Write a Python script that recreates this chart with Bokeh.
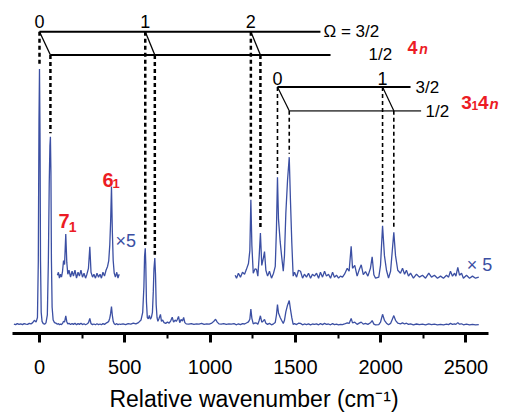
import numpy as np
from bokeh.plotting import figure
from bokeh.models import Label, SingleIntervalTicker
from bokeh.embed import file_html
from bokeh.resources import INLINE

# ---------------- data ----------------
wavenumber = [
    -150, -140, -130, -120, -110, -100, -90, -80, -70, -60, -50, -40, -30, -20, -12, -7, -3, 0, 3, 6, 10, 15, 22, 30, 38,
    46, 52, 57, 61, 64, 67, 70, 74, 80, 88, 96,
    105, 111, 117, 123, 129, 135, 141, 147, 154, 160, 166, 173, 182, 191, 199, 208, 217, 226, 234, 243, 252, 261, 270,
    278, 287, 295, 302, 311, 319, 328, 337, 346, 355, 363, 372, 381, 390, 399, 406, 412, 417, 422, 427, 432, 438, 445,
    453, 460, 467,
    475, 490, 505, 520, 535, 550, 565, 580, 595, 605, 612, 616, 620, 623, 627, 632, 638, 644, 650, 656, 662, 667, 671,
    676, 680, 684, 689, 694, 700, 709, 715, 722, 730, 740, 750, 760, 770, 778, 786, 795, 802, 808, 815, 822, 830, 838,
    845, 852, 860, 875, 890, 905, 920, 935, 950, 965, 980, 995, 1010, 1022, 1032, 1042, 1052, 1065, 1080, 1095, 1110,
    1125, 1140,
    1147, 1155, 1166, 1178, 1190, 1202, 1213, 1225, 1233, 1239, 1245, 1253, 1264, 1272, 1280, 1288, 1295, 1303, 1313,
    1319, 1327, 1337, 1348, 1360, 1372, 1382, 1389, 1395, 1401, 1411, 1419, 1429, 1436, 1444, 1454, 1464, 1471, 1479,
    1487, 1495, 1507, 1518, 1530, 1542, 1553, 1565, 1577, 1589, 1600,
    1612, 1624, 1636, 1647, 1659, 1671, 1682, 1694, 1706, 1718, 1729, 1741, 1753, 1764, 1776, 1788, 1804, 1815, 1827,
    1835, 1848, 1862, 1874, 1886, 1898, 1911, 1925, 1940, 1950, 1960, 1970, 1989, 1999, 2011, 2022, 2034, 2046, 2058,
    2069, 2077, 2087, 2100, 2116,
    2128, 2140, 2151, 2163, 2175, 2192, 2210, 2227, 2245, 2263, 2282, 2298, 2315, 2333, 2351, 2368, 2386, 2398, 2409,
    2421, 2433, 2441, 2452, 2462, 2474, 2485, 2503, 2521, 2538, 2556, 2575,
]
intensity = [
    0.4, 0.2, 0.6, 0.3, 0.5, 0.2, 0.6, 0.4, 0.3, 0.7, 0.5, 1.0, 1.9, 1.2, 3.0, 25, 80, 100, 75, 25, 5, 1.5, 0.6, 0.4, 0.9,
    4, 25, 55, 70, 73.6, 60, 25, 7, 2, 1.0, 0.8,
    0.38, 0.61, 0.15, 0.46, 0.23, 0.69, 1.53, 1.22, 3.6, 1.38, 0.46, 0.77, 0.23, 0.69, 0.31, 0.77, 0.15, 0.61, 0.31,
    0.77, 0.23, 0.54, 0.15, 0.46, 0.92, 2.6, 0.61, 0.23, 0.46, 0.15, 0.54, 0.23, 0.46, 0.15, 0.61, 0.31, 0.77, 1.07,
    1.53, 2.75, 4.6, 7.3, 3.8, 1.53, 0.54, 0.23, 0.61, 0.15, 0.46,
    0.3, 0.5, 0.2, 0.6, 0.4, 0.8, 0.5, 1.0, 2.0, 5, 15, 27, 30, 24, 9, 3, 2.5, 3.8, 2.4, 3.0, 5, 13, 22,
    26.2, 20, 8, 3, 1.5, 2.5, 4.2, 1.5, 2.0, 1.0, 0.7, 1.2, 0.8, 1.8, 3.1, 1.2, 2.0, 1.5, 2.2, 3.4, 1.0, 2.2, 1.6,
    3.0, 1.0, 0.5, 0.4, 0.6, 0.3, 0.5, 0.4, 0.7, 0.3, 0.5, 0.4, 0.8, 1.5, 2.3, 1.2, 0.5, 0.4, 0.6, 0.3, 0.5,
    0.4, 0.6,
    0.38, 0.15, 0.54, 0.23, 0.61, 0.46, 0.84, 1.3, 2.3, 6.27, 2.68, 0.54, 0.88, 0.84, 0.31, 1.91, 3.67, 1.15, 1.76,
    2.22, 0.77, 0.31, 0.69, 0.15, 0.54, 1.07, 3.98, 8.03, 4.74, 2.98, 1.91, 0.69, 1.91, 5.2, 7.8, 9.6, 6.27, 2.91,
    0.31, 0.61, 0.23, 0.77, 0.69, 0.15, 0.46, 0.23, 0.54, 0.15, 0.46,
    0.31, 0.54, 0.15, 0.61, 0.23, 0.69, 0.31, 0.46, 0.15, 0.61, 0.23, 0.38, 0.15, 0.31, 0.23, 0.46, 0.92, 0.69, 2.64,
    0.92, 1.15, 0.31, 0.8, 1.19, 0.42, 0.67, 0.31, 0.92, 1.82, 0.42, 0.15, 0.23, 1.15, 4.25, 1.91, 0.77, 0.15, 0.69,
    2.45, 3.73, 1.91, 0.77, 0.54,
    0.92, 0.46, 0.77, 0.31, 0.54, 0.15, 0.46, 0.23, 0.38, 0.15, 0.54, 0.23, 0.38, 0.15, 0.31, 0.15, 0.38, 0.23, 0.69,
    0.31, 0.54, 0.31, 0.99, 0.38, 0.54, 0.15, 0.38, 0.15, 0.31, 0.15, 0.23,
]
expanded_ranges = [(105, 467), (1147, 2575)]   # parts shown again x5
expand_factor = 5

# progressions (band positions, cm-1)
prog_4n_32 = [0, 620, 1239]        # Omega = 3/2, labels 0,1,2
prog_4n_12 = [64, 676, 1295]       # Omega = 1/2
prog_314n_32 = [1395, 2011]        # Omega = 3/2, labels 0,1
prog_314n_12 = [1464, 2077]        # Omega = 1/2
prog_4n_labels = ["0", "1", "2"]
prog_314n_labels = ["0", "1"]

x_axis_title = "Relative wavenumber (cm⁻¹)"

# ---------------- layout constants ----------------
W, H = 507, 414
X_RANGE = (-228.6, 2743.4)
AXIS_BOUNDS = (-158, 2632)
Y_RANGE = (-3.25, 126.77)
OFFSET = 17.6           # baseline of the x5 trace
GAP = 1.3               # gap between dashed line end and peak top
BLUE = "#3b4fa3"
RED = "#ec1c24"
FONT = "Liberation Sans"

wn = np.array(wavenumber, dtype=float)
inten = np.array(intensity, dtype=float)

p = figure(width=W, height=H, x_range=X_RANGE, y_range=Y_RANGE,
           output_backend="svg", toolbar_location=None,
           min_border_left=0, min_border_right=0, min_border_top=0, min_border_bottom=74)
p.yaxis.visible = False
p.xgrid.visible = False
p.ygrid.visible = False
p.outline_line_color = None
p.background_fill_color = "white"
p.border_fill_color = "white"

# spectrum: full trace
p.line(wn, inten, line_color=BLUE, line_width=1.3)
# expanded traces
for lo, hi in expanded_ranges:
    m = (wn >= lo) & (wn <= hi)
    p.line(wn[m], OFFSET + expand_factor * inten[m], line_color=BLUE, line_width=1.3)


def shown_top(w):
    i = float(np.interp(w, wn, inten))
    for lo, hi in expanded_ranges:
        if lo <= w <= hi:
            return OFFSET + expand_factor * i
    return i


# level diagram positions
L1_32, L1_12 = 114.6, 105.5
L2_32, L2_12 = 93.0, 83.7
L1_32_end, L1_12_end = 1647, 1706
L2_32_end, L2_12_end = 2175, 2237

# horizontal level lines
p.segment(x0=[prog_4n_32[0], prog_4n_12[0]], y0=[L1_32, L1_12],
          x1=[L1_32_end, L1_12_end], y1=[L1_32, L1_12], line_color="black", line_width=2)
p.segment(x0=[prog_314n_32[0]], y0=[L2_32], x1=[L2_32_end], y1=[L2_32], line_color="black", line_width=1.8)
p.segment(x0=[prog_314n_12[0]], y0=[L2_12], x1=[L2_12_end], y1=[L2_12], line_color="#555555", line_width=1.8)

# slanted connectors
p.segment(x0=prog_4n_32, y0=[L1_32] * 3, x1=prog_4n_12, y1=[L1_12] * 3, line_color="black", line_width=1.3)
p.segment(x0=prog_314n_32, y0=[L2_32] * 2, x1=prog_314n_12, y1=[L2_12] * 2, line_color="black", line_width=1.2)


# dashed drop lines
def drops(xs, ylev, width):
    p.segment(x0=xs, y0=[ylev] * len(xs), x1=xs, y1=[shown_top(x) + GAP for x in xs],
              line_color="black", line_width=width, line_dash="4 3")


drops(prog_4n_32, L1_32, 2.5)
drops(prog_4n_12, L1_12, 2.5)
drops(prog_314n_32, L2_32, 1.6)
drops(prog_314n_12, L2_12, 1.6)


def lab(x, y, text, size, color="black", style="normal", align="left", baseline="alphabetic"):
    p.add_layout(Label(x=x, y=y, text=text, text_font=FONT, text_font_size=size, text_color=color,
                       text_font_style=style, text_align=align, text_baseline=baseline))


# progression numbers
for x, t in zip(prog_4n_32, prog_4n_labels):
    lab(x, 118.7, t, "18px", align="center", baseline="middle")
for x, t in zip(prog_314n_32, prog_314n_labels):
    lab(x, 96.2, t, "18px", align="center", baseline="middle")

lab(1665, 114.5, "Ω = 3/2", "17px", baseline="middle")
lab(1929, 105.7, "1/2", "17px", baseline="middle")
lab(2204, 92.7, "3/2", "17px", baseline="middle")
lab(2263, 83.5, "1/2", "17px", baseline="middle")

# red band labels
lab(2157, 108.4, "4", "18px", RED, "bold")
lab(2226, 108.0, "n", "14px", RED, "bold italic")
lab(2473, 87.0, "3", "19px", RED, "bold")
lab(2533, 85.8, "1", "12px", RED, "bold")
lab(2570, 87.0, "4", "19px", RED, "bold")
lab(2638, 86.4, "n", "15px", RED, "bold italic")
lab(369, 56.8, "6", "20px", RED, "bold")
lab(428, 55.3, "1", "13px", RED, "bold")
lab(111, 40.5, "7", "20px", RED, "bold")
lab(172, 38.5, "1", "14px", RED, "bold")

# x5 markers
lab(445, 33.0, "×5", "18px", BLUE)
lab(2505, 23.4, "× 5", "18px", BLUE)

# axis
ax = p.xaxis[0]
ax.bounds = AXIS_BOUNDS
ax.ticker = SingleIntervalTicker(interval=500, num_minor_ticks=2)
ax.axis_line_width = 3
ax.axis_line_color = "black"
ax.major_tick_line_width = 3
ax.major_tick_out = 9
ax.major_tick_in = 0
ax.minor_tick_line_width = 2
ax.minor_tick_out = 5
ax.minor_tick_in = 0
ax.major_label_text_font = FONT
ax.major_label_text_font_size = "20px"
ax.major_label_text_color = "black"
ax.major_label_standoff = 17
ax.axis_label = x_axis_title
ax.axis_label_text_font = FONT
ax.axis_label_text_font_size = "23px"
ax.axis_label_text_font_style = "normal"
ax.axis_label_text_color = "black"
ax.axis_label_standoff = 9

open("out.html", "w").write(file_html(p, INLINE))
